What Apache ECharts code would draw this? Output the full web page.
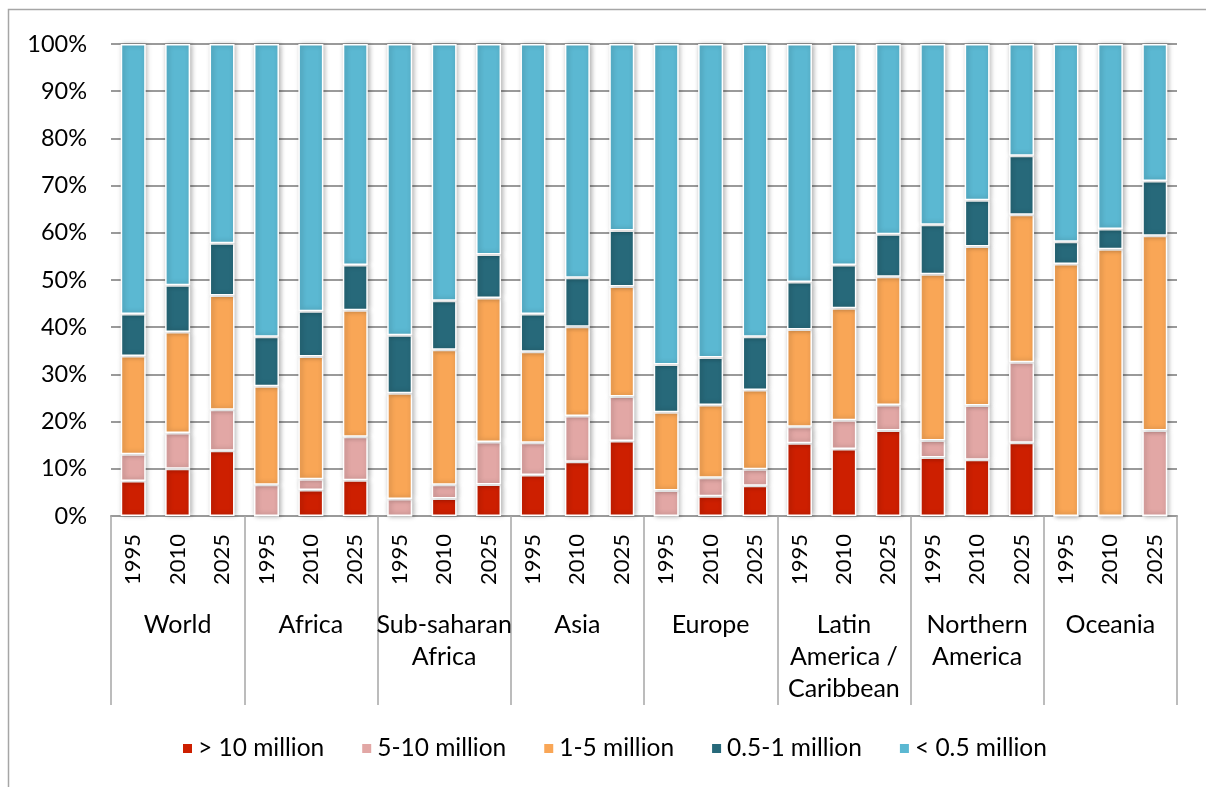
<!DOCTYPE html>
<html>
<head>
<meta charset="utf-8">
<script src="https://cdn.jsdelivr.net/npm/echarts@6/dist/echarts.min.js"></script>
<style>
html,body{margin:0;padding:0;background:#fff;}
#chart{width:1206px;height:787px;}
</style>
</head>
<body>
<div id="chart"></div>
<script>
const years = ['1995','2010','2025','1995','2010','2025','1995','2010','2025','1995','2010','2025',
               '1995','2010','2025','1995','2010','2025','1995','2010','2025','1995','2010','2025'];
const regions = ['World','Africa','Sub-saharan\nAfrica','Asia','Europe','Latin\nAmerica /\nCaribbean','Northern\nAmerica','Oceania'];
const seriesNames = ['> 10 million','5-10 million','1-5 million','0.5-1 million','< 0.5 million'];
const over10M   = [7.4,10.0,13.8, 0,5.5,7.6, 0,3.7,6.7, 8.7,11.5,15.9, 0,4.2,6.4, 15.4,14.2,18.1, 12.4,11.9,15.5, 0,0,0];
const m5to10    = [5.7,7.6,8.7, 6.6,2.3,9.2, 3.6,2.9,9.0, 6.8,9.7,9.4, 5.4,3.9,3.5, 3.5,6.1,5.4, 3.6,11.5,17.1, 0,0,18.1];
const m1to5     = [20.8,21.4,24.2, 20.9,26.0,26.8, 22.4,28.6,30.5, 19.3,18.9,23.3, 16.6,15.4,16.8, 20.6,23.7,27.2, 35.2,33.7,31.2, 53.4,56.5,41.3];
const m05to1    = [8.9,9.9,11.1, 10.5,9.6,9.6, 12.3,10.4,9.2, 8.0,10.4,11.9, 10.1,10.1,11.3, 10.1,9.2,9.0, 10.5,9.8,12.5, 4.7,4.3,11.6];
const under05M  = [57.2,51.1,42.2, 62.0,56.6,46.8, 61.7,54.4,44.6, 57.2,49.5,39.5, 67.9,66.4,62.0, 50.4,46.8,40.3, 38.3,33.1,23.7, 41.9,39.2,29.0];
const yTicks = {min:0, max:100, interval:10};

const colors = ['#CD1F00','#E2A7A5','#F9A656','#27697A','#5BB8D2'];
const values = [over10M, m5to10, m1to5, m05to1, under05M];
const FONT = 'Lato';

const chart = echarts.init(document.getElementById('chart'));
chart.setOption({
  animation:false,
  color: colors,
  textStyle:{fontFamily:FONT, color:'#000'},
  grid:{left:111, right:29, top:44, bottom:271, containLabel:false},
  graphic:[{type:'rect', shape:{x:8.5,y:9.5,width:1400,height:900}, style:{fill:'none',stroke:'#a6a6a6',lineWidth:1.5}, silent:true}],
  legend:{
    data: seriesNames, left:176, top:731, itemWidth:11, itemHeight:11, itemGap:36, icon:'rect',
    textStyle:{fontFamily:FONT, fontSize:24.5, color:'#000'}
  },
  xAxis:[
    {type:'category', data:years, gridIndex:0,
     axisLine:{show:true, lineStyle:{color:'#9a9a9a', width:2}},
     axisTick:{show:false},
     axisLabel:{interval:0, rotate:90, margin:18, fontSize:22, color:'#000', fontFamily:FONT}},
    {type:'category', data:regions, gridIndex:0, position:'bottom',
     axisLine:{show:false},
     axisTick:{show:true, interval:0, length:189, lineStyle:{color:'#a6a6a6', width:1.5}},
     axisLabel:{interval:0, margin:93, fontSize:25, lineHeight:32, color:'#000', fontFamily:FONT, align:'center'}}
  ],
  yAxis:{type:'value', min:yTicks.min, max:yTicks.max, interval:yTicks.interval,
    axisLine:{show:false}, axisTick:{show:false},
    axisLabel:{formatter:'{value}%', fontSize:23.5, margin:24, color:'#000', fontFamily:FONT},
    splitLine:{lineStyle:{color:'#9a9a9a', width:2}}},
  series: values.map((v,i)=>({
    name: seriesNames[i], type:'bar', stack:'total', data:v, barWidth:25, xAxisIndex:0,
    itemStyle:{borderColor:'#fff', borderWidth:1.5, shadowBlur:5, shadowColor:'rgba(0,0,0,0.3)', shadowOffsetX:1.5}
  }))
});
</script>
</body>
</html>
